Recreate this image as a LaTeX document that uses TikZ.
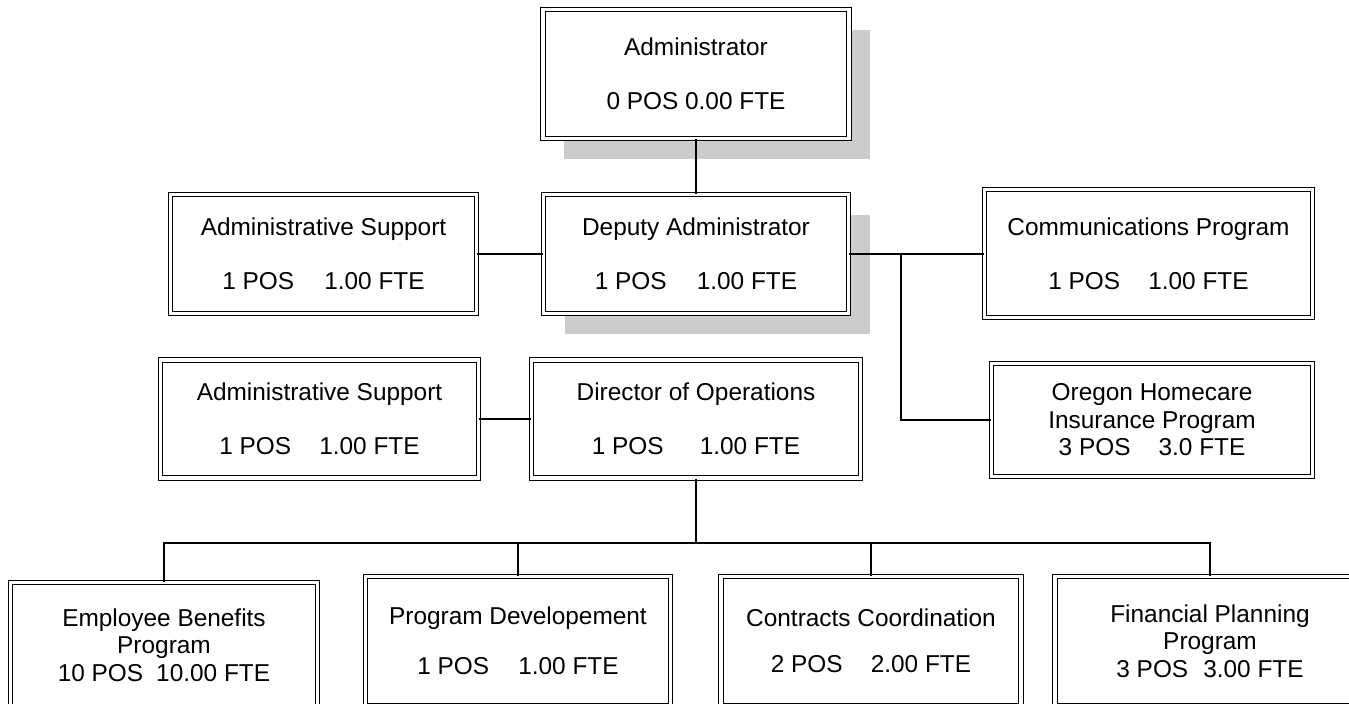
\documentclass[tikz,border=0pt]{standalone}
\usepackage{fontspec}
\setmainfont{Liberation Sans}
\usetikzlibrary{shadows}

\begin{document}
\begin{tikzpicture}[x=0.5pt, y=-0.5pt,
    box/.style={draw, double=white, double distance=1.6pt, line width=0.6pt,
        fill=white, inner sep=0pt, align=center,
        font=\fontsize{12.2}{13.8}\selectfont},
    shade/.style={drop shadow={shadow xshift=10.5pt, shadow yshift=-10.5pt,
        fill=black!20, opacity=1}},
    link/.style={line width=0.7pt}]

    % Page size
    \useasboundingbox (0,0) rectangle (1349,704);
    \clip (0,0) rectangle (1349,704);

    % Top levels
    \node[box, shade, minimum width=153pt, minimum height=64.5pt] (adm) at (696,74)
        {Administrator\\[13.2pt]0 POS 0.00 FTE};
    \node[box, shade, minimum width=152.5pt, minimum height=59.5pt] (dep) at (696,254)
        {Deputy Administrator\\[13.2pt]1 POS\hspace{15pt}1.00 FTE};
    \node[box, minimum width=153pt, minimum height=59.5pt] (sup1) at (323.5,254)
        {Administrative Support\\[13.2pt]1 POS\hspace{15pt}1.00 FTE};
    \node[box, minimum width=164pt, minimum height=64pt] (com) at (1148.5,253.5)
        {Communications Program\\[13.2pt]1 POS\hspace{14pt}1.00 FTE};
    \node[box, minimum width=160.5pt, minimum height=56.5pt] (ore) at (1152,420)
        {Oregon Homecare\\Insurance Program\\3 POS\hspace{14pt}3.0 FTE};

    % Operations
    \node[box, minimum width=159pt, minimum height=59pt] (sup2) at (319.5,419)
        {Administrative Support\\[13.2pt]1 POS\hspace{14pt}1.00 FTE};
    \node[box, minimum width=164.5pt, minimum height=59pt] (dir) at (696,419)
        {Director of Operations\\[13.2pt]1 POS\hspace{18pt}1.00 FTE};

    % Programs (bottom row, cut by the page edge)
    \node[box, minimum width=153.5pt, minimum height=62.5pt] (emp) at (164,645)
        {Employee Benefits\\Program\\10 POS\hspace{6.5pt}10.00 FTE};
    \node[box, minimum width=152.5pt, minimum height=64.5pt] (dev) at (518,641)
        {Program Developement\\[11.2pt]1 POS\hspace{14.5pt}1.00 FTE};
    \node[box, minimum width=150pt, minimum height=64.5pt] (con) at (871,641)
        {Contracts Coordination\\[9.2pt]2 POS\hspace{14pt}2.00 FTE};
    \node[box, minimum width=155pt, minimum height=64.5pt] (fin) at (1210,641)
        {Financial Planning\\Program\\3 POS\hspace{7.5pt}3.00 FTE};

    % Connectors
    \coordinate (jn) at (901,254);
    \coordinate (bus) at (696,543);
    \draw[link] (adm.south) -- (dep.north);
    \draw[link] (sup1) -- (dep);
    \draw[link] (dep.east) -- (jn) -- (com.west |- jn);
    \draw[link] (jn) |- (ore.west);
    \draw[link] (sup2) -- (dir);
    \draw[link] (dir.south) -- (bus);
    \foreach \n in {emp,dev,con,fin}
        \draw[link] (bus) -| (\n.north);
\end{tikzpicture}
\end{document}
